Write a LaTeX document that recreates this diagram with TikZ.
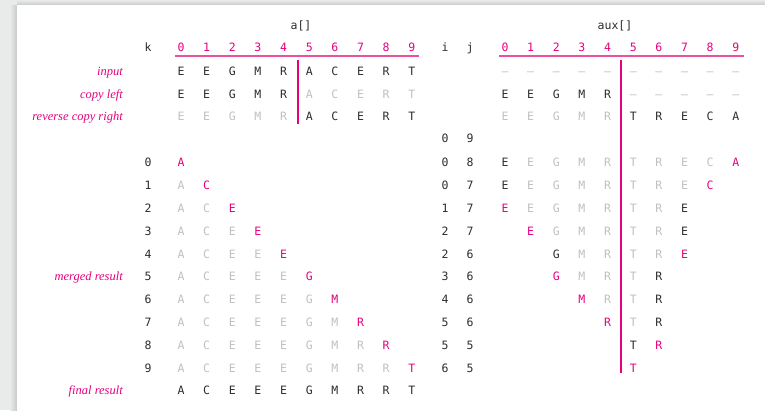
\documentclass[tikz,border=0pt]{standalone}
\usepackage{fontspec}
\setmonofont{DejaVu Sans Mono}
\newfontfamily\labfont{Liberation Serif}
\definecolor{pk}{RGB}{230,0,126}
\definecolor{pkline}{RGB}{236,80,160}
\definecolor{txt}{RGB}{45,45,45}
\definecolor{lgr}{RGB}{192,192,192}
\definecolor{bggr}{RGB}{233,235,235}
\definecolor{shd}{RGB}{200,202,202}
\newcommand\putrow[4]{%
  \foreach \n/\st/\lt in {#4}{\node[\st] (#1-\n) at ({#3+\n*25.65},#2) {\lt};}}
\begin{document}
\begin{tikzpicture}[x=1pt,y=-1pt,
  cell/.style={font=\ttfamily\fontsize{11.5}{12}\selectfont, inner sep=0pt, anchor=base},
  dk/.style={cell,text=txt},
  gr/.style={cell,text=lgr},
  pi/.style={cell,text=pk},
  lab/.style={font=\labfont\itshape\fontsize{12.5}{14}\selectfont, text=pk, anchor=base east, inner sep=0pt},
  ttl/.style={font=\ttfamily\fontsize{11.5}{12}\selectfont, text=txt, inner sep=0pt, anchor=base},
  uline/.style={draw=pkline, line width=1.5pt},
  vline/.style={draw=pk, line width=1.4pt}]
\useasboundingbox (0,0) rectangle (765,410);
\fill[bggr] (0,0) rectangle (765,410);
\shade[left color=bggr, right color=shd] (10,5) rectangle (17,410);
\shade[top color=bggr, bottom color=shd] (17,0) rectangle (765,5);
\fill[white] (17,5) rectangle (765,410);
% titles
\node[ttl] (ta) at (301,29.5) {a[]};
\node[ttl] (tb) at (615,29.5) {aux[]};
\node[ttl] (hk) at (148,51.5) {k};
\node[ttl] (hi) at (445,51.5) {i};
\node[ttl] (hj) at (470,51.5) {j};
\putrow{ha}{51.5}{181}{0/pi/0,1/pi/1,2/pi/2,3/pi/3,4/pi/4,5/pi/5,6/pi/6,7/pi/7,8/pi/8,9/pi/9}
\putrow{hb}{51.5}{505}{0/pi/0,1/pi/1,2/pi/2,3/pi/3,4/pi/4,5/pi/5,6/pi/6,7/pi/7,8/pi/8,9/pi/9}
\draw[uline] (175,56) -- (419,56);
\draw[uline] (499,56) -- (744,56);
% labels
\node[lab] (l1) at (123,75.5) {input};
\node[lab] (l2) at (123,98.5) {copy left};
\node[lab] (l3) at (123,120.5) {reverse copy right};
\node[lab] (l4) at (123,280.5) {merged result};
\node[lab] (l5) at (123,394.5) {final result};
% input
\putrow{r1a}{75.5}{181}{0/dk/E,1/dk/E,2/dk/G,3/dk/M,4/dk/R,5/dk/A,6/dk/C,7/dk/E,8/dk/R,9/dk/T}
\putrow{r1b}{75.5}{505}{0/gr/–,1/gr/–,2/gr/–,3/gr/–,4/gr/–,5/gr/–,6/gr/–,7/gr/–,8/gr/–,9/gr/–}
% copy left
\putrow{r2a}{98.5}{181}{0/dk/E,1/dk/E,2/dk/G,3/dk/M,4/dk/R,5/gr/A,6/gr/C,7/gr/E,8/gr/R,9/gr/T}
\putrow{r2b}{98.5}{505}{0/dk/E,1/dk/E,2/dk/G,3/dk/M,4/dk/R,5/gr/–,6/gr/–,7/gr/–,8/gr/–,9/gr/–}
% reverse copy right
\putrow{r3a}{120.5}{181}{0/gr/E,1/gr/E,2/gr/G,3/gr/M,4/gr/R,5/dk/A,6/dk/C,7/dk/E,8/dk/R,9/dk/T}
\putrow{r3b}{120.5}{505}{0/gr/E,1/gr/E,2/gr/G,3/gr/M,4/gr/R,5/dk/T,6/dk/R,7/dk/E,8/dk/C,9/dk/A}
% i j start
\node[dk] (r4i) at (445,142.5) {0};
\node[dk] (r4j) at (470,142.5) {9};
% merge steps
\node[dk] (k0) at (148,166.5) {0}; \node[dk] (i0) at (445,166.5) {0}; \node[dk] (j0) at (470,166.5) {8};
\putrow{s0a}{166.5}{181}{0/pi/A}
\putrow{s0b}{166.5}{505}{0/dk/E,1/gr/E,2/gr/G,3/gr/M,4/gr/R,5/gr/T,6/gr/R,7/gr/E,8/gr/C,9/pi/A}
\node[dk] (k1) at (148,189.5) {1}; \node[dk] (i1) at (445,189.5) {0}; \node[dk] (j1) at (470,189.5) {7};
\putrow{s1a}{189.5}{181}{0/gr/A,1/pi/C}
\putrow{s1b}{189.5}{505}{0/dk/E,1/gr/E,2/gr/G,3/gr/M,4/gr/R,5/gr/T,6/gr/R,7/gr/E,8/pi/C}
\node[dk] (k2) at (148,212.5) {2}; \node[dk] (i2) at (445,212.5) {1}; \node[dk] (j2) at (470,212.5) {7};
\putrow{s2a}{212.5}{181}{0/gr/A,1/gr/C,2/pi/E}
\putrow{s2b}{212.5}{505}{0/pi/E,1/gr/E,2/gr/G,3/gr/M,4/gr/R,5/gr/T,6/gr/R,7/dk/E}
\node[dk] (k3) at (148,235.5) {3}; \node[dk] (i3) at (445,235.5) {2}; \node[dk] (j3) at (470,235.5) {7};
\putrow{s3a}{235.5}{181}{0/gr/A,1/gr/C,2/gr/E,3/pi/E}
\putrow{s3b}{235.5}{505}{1/pi/E,2/gr/G,3/gr/M,4/gr/R,5/gr/T,6/gr/R,7/dk/E}
\node[dk] (k4) at (148,258.5) {4}; \node[dk] (i4) at (445,258.5) {2}; \node[dk] (j4) at (470,258.5) {6};
\putrow{s4a}{258.5}{181}{0/gr/A,1/gr/C,2/gr/E,3/gr/E,4/pi/E}
\putrow{s4b}{258.5}{505}{2/dk/G,3/gr/M,4/gr/R,5/gr/T,6/gr/R,7/pi/E}
\node[dk] (k5) at (148,280.5) {5}; \node[dk] (i5) at (445,280.5) {3}; \node[dk] (j5) at (470,280.5) {6};
\putrow{s5a}{280.5}{181}{0/gr/A,1/gr/C,2/gr/E,3/gr/E,4/gr/E,5/pi/G}
\putrow{s5b}{280.5}{505}{2/pi/G,3/gr/M,4/gr/R,5/gr/T,6/dk/R}
\node[dk] (k6) at (148,303.5) {6}; \node[dk] (i6) at (445,303.5) {4}; \node[dk] (j6) at (470,303.5) {6};
\putrow{s6a}{303.5}{181}{0/gr/A,1/gr/C,2/gr/E,3/gr/E,4/gr/E,5/gr/G,6/pi/M}
\putrow{s6b}{303.5}{505}{3/pi/M,4/gr/R,5/gr/T,6/dk/R}
\node[dk] (k7) at (148,326.5) {7}; \node[dk] (i7) at (445,326.5) {5}; \node[dk] (j7) at (470,326.5) {6};
\putrow{s7a}{326.5}{181}{0/gr/A,1/gr/C,2/gr/E,3/gr/E,4/gr/E,5/gr/G,6/gr/M,7/pi/R}
\putrow{s7b}{326.5}{505}{4/pi/R,5/gr/T,6/dk/R}
\node[dk] (k8) at (148,349.5) {8}; \node[dk] (i8) at (445,349.5) {5}; \node[dk] (j8) at (470,349.5) {5};
\putrow{s8a}{349.5}{181}{0/gr/A,1/gr/C,2/gr/E,3/gr/E,4/gr/E,5/gr/G,6/gr/M,7/gr/R,8/pi/R}
\putrow{s8b}{349.5}{505}{5/dk/T,6/pi/R}
\node[dk] (k9) at (148,372.5) {9}; \node[dk] (i9) at (445,372.5) {6}; \node[dk] (j9) at (470,372.5) {5};
\putrow{s9a}{372.5}{181}{0/gr/A,1/gr/C,2/gr/E,3/gr/E,4/gr/E,5/gr/G,6/gr/M,7/gr/R,8/gr/R,9/pi/T}
\putrow{s9b}{372.5}{505}{5/pi/T}
% final
\putrow{fa}{394.5}{181}{0/dk/A,1/dk/C,2/dk/E,3/dk/E,4/dk/E,5/dk/G,6/dk/M,7/dk/R,8/dk/R,9/dk/T}
% dividers
\draw[vline] (298,60) -- (298,124);
\draw[vline] (621,60) -- (621,373);
\end{tikzpicture}
\end{document}
